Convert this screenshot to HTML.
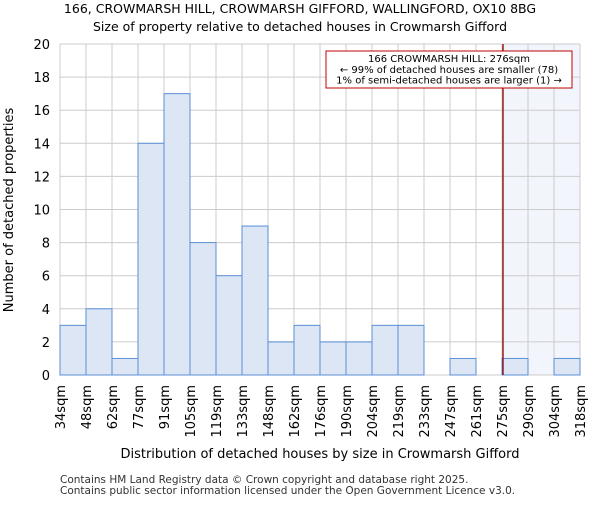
<!DOCTYPE html>
<html><head><meta charset="utf-8"><style>
body{margin:0;background:#fff;font-family:"Liberation Sans","DejaVu Sans",sans-serif}
</style></head><body>
<svg width="600" height="500" xmlns="http://www.w3.org/2000/svg" font-family="DejaVu Sans, Liberation Sans, sans-serif">
<text x="300" y="13" text-anchor="middle" font-size="12.5">166, CROWMARSH HILL, CROWMARSH GIFFORD, WALLINGFORD, OX10 8BG</text>
<text x="300" y="31" text-anchor="middle" font-size="12.5">Size of property relative to detached houses in Crowmarsh Gifford</text>
<rect x="503" y="44" width="77" height="331" fill="#f2f5fc"/>
<g id="grid"></g>
<g id="bars"></g>
<line x1="503" y1="44" x2="503" y2="375" stroke="#900000" stroke-width="1.3"/>
<g id="yticks" font-size="13"></g>
<g id="xticks" font-size="13"></g>
<text x="13" y="210" transform="rotate(-90 13 210)" text-anchor="middle" font-size="13">Number of detached properties</text>
<text x="320" y="458" text-anchor="middle" font-size="13">Distribution of detached houses by size in Crowmarsh Gifford</text>
<rect x="326" y="51" width="246" height="37" fill="#fff" stroke="#c00000" stroke-width="1"/>
<text x="449" y="62" text-anchor="middle" font-size="10">166 CROWMARSH HILL: 276sqm</text>
<text x="449" y="73" text-anchor="middle" font-size="10">← 99% of detached houses are smaller (78)</text>
<text x="449" y="83.5" text-anchor="middle" font-size="10">1% of semi-detached houses are larger (1) →</text>
<text x="60" y="483" font-size="10.5" fill="#333">Contains HM Land Registry data © Crown copyright and database right 2025.</text>
<text x="60" y="494" font-size="10.5" fill="#333">Contains public sector information licensed under the Open Government Licence v3.0.</text>
</svg>
<script>
const binLabels=["34sqm","48sqm","62sqm","77sqm","91sqm","105sqm","119sqm","133sqm","148sqm","162sqm","176sqm","190sqm","204sqm","219sqm","233sqm","247sqm","261sqm","275sqm","290sqm","304sqm","318sqm"];
const counts=[3,4,1,14,17,8,6,9,2,3,2,2,3,3,0,1,0,1,0,1];
const yTicks=[0,2,4,6,8,10,12,14,16,18,20];
const X0=60,X1=580,Y0=375,Y1=44,YMAX=20;
const NS="http://www.w3.org/2000/svg";
const bw=(X1-X0)/counts.length;
const xs=i=>X0+i*bw, ys=v=>Y0-(v/YMAX)*(Y0-Y1);
function mk(t,a,p){const e=document.createElementNS(NS,t);for(const k in a)e.setAttribute(k,a[k]);p.appendChild(e);return e;}
const grid=document.getElementById('grid'),bars=document.getElementById('bars'),yt=document.getElementById('yticks'),xt=document.getElementById('xticks');
yTicks.forEach(v=>{
 const l=mk('line',{x1:X0,x2:X1,y1:ys(v),y2:ys(v),stroke:'#cccccc','stroke-width':1},grid);
 
 
 const t=mk('text',{x:X0-10,y:ys(v)+5,'text-anchor':'end'},yt);t.textContent=v;
 
 
});
binLabels.forEach((s,i)=>{
 const x=xs(i);
 const l=mk('line',{x1:x,x2:x,y1:Y1,y2:Y0,stroke:'#cccccc','stroke-width':1},grid);
 
 
 const t=mk('text',{x:0,y:0,'text-anchor':'end',transform:`translate(${x+5},${Y0+10}) rotate(-90)`},xt);t.textContent=s;
 
 
});
counts.forEach((c,i)=>{
 if(c<=0)return;
 const r=mk('rect',{x:xs(i),y:ys(c),width:bw,height:Y0-ys(c),fill:'#dce6f4',stroke:'#5b8fd6','stroke-width':1},bars);
 
 
});
</script>
</body></html>
